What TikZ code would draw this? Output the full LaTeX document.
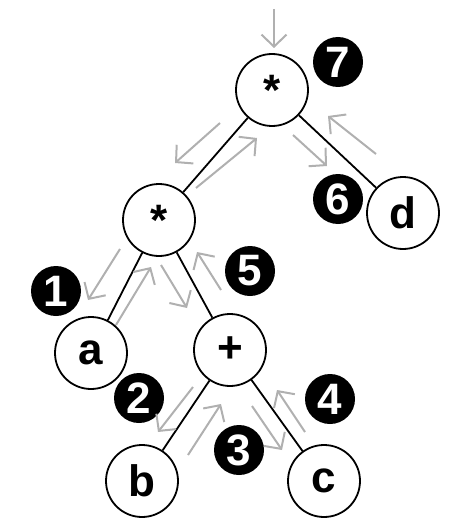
\documentclass[tikz,border=0pt]{standalone}
\usepackage{fontspec}
\setmainfont{Liberation Sans}
\usetikzlibrary{arrows.meta}
\begin{document}
\begin{tikzpicture}[x=1pt,y=-1pt,
  tnode/.style={circle,draw=black,line width=1.8pt,minimum size=72pt,inner sep=0pt,fill=white,font=\fontsize{44}{44}\selectfont\bfseries},
  badge/.style={circle,fill=black,minimum size=50pt,inner sep=0pt,text=white,font=\fontsize{44}{44}\selectfont\bfseries},
  edge/.style={line width=1.8pt,black},
  flow/.style={line width=2pt,gray!62,-{Straight Barb[length=12pt,width=25pt,line width=2pt]}}]
\useasboundingbox (0,0) rectangle (466,524);
\node[tnode] (r) at (272,90) {*};
\node[tnode] (m) at (159,220) {*};
\node[tnode] (a) at (91,353) {a};
\node[tnode] (p) at (230,350) {+};
\node[tnode] (b) at (142,481) {b};
\node[tnode] (c) at (324,481) {c};
\node[tnode] (d) at (403,213) {d};
\draw[edge] (r) -- (m);
\draw[edge] (r) -- (d);
\draw[edge] (m) -- (a);
\draw[edge] (m) -- (p);
\draw[edge] (p) -- (b);
\draw[edge] (p) -- (c);
\node[badge] (n1) at (56,291) {1};
\node[badge] (n2) at (139,398) {2};
\node[badge] (n3) at (239,450) {3};
\node[badge] (n4) at (330,399) {4};
\node[badge] (n5) at (250,271) {5};
\node[badge] (n6) at (338,199) {6};
\node[badge] (n7) at (338,62) {7};
\draw[flow] (274,9) -- (274,48);
\draw[flow] (220,123) -- (175,163);
\draw[flow] (196,188) -- (257,138);
\draw[flow] (293,135) -- (327,166);
\draw[flow] (376,154) -- (328,116);
\draw[flow] (120,249) -- (88,300);
\draw[flow] (116,325) -- (151,267);
\draw[flow] (161,265) -- (187,308);
\draw[flow] (221,290) -- (197,252);
\draw[flow] (193,387) -- (158,432);
\draw[flow] (188,455) -- (221,404);
\draw[flow] (252,406) -- (282,450);
\draw[flow] (305,432) -- (277,390);
\end{tikzpicture}
\end{document}
